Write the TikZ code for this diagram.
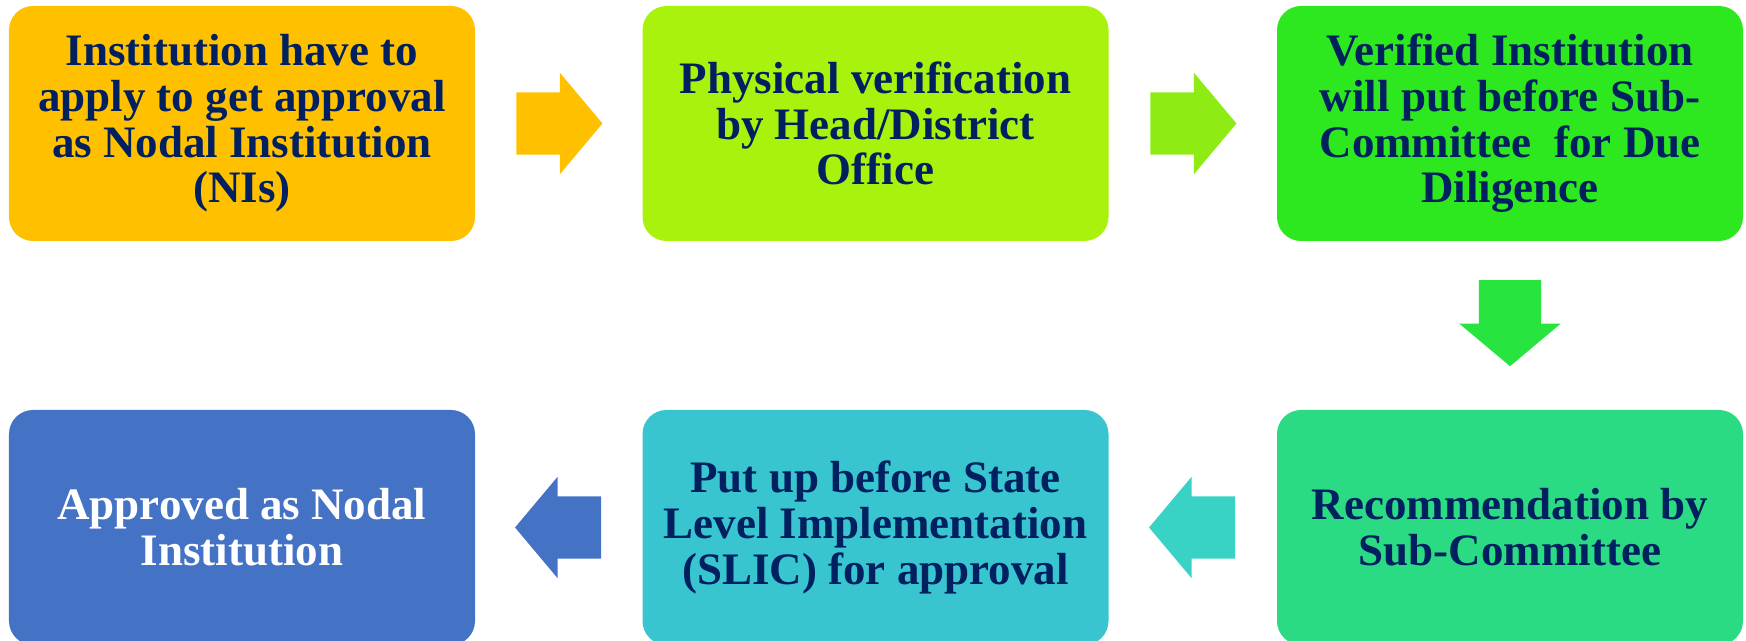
\documentclass[tikz,border=0pt]{standalone}
\usepackage{fontspec}
\setmainfont{Liberation Serif}
\usetikzlibrary{shapes.arrows,calc}

\definecolor{textnavy}{HTML}{002060}
\definecolor{boxamber}{HTML}{FFC000}
\definecolor{boxlime}{HTML}{A8F20E}
\definecolor{arrowlime}{HTML}{8EEC14}
\definecolor{boxgreen}{HTML}{2EE81F}
\definecolor{arrowgreen}{HTML}{28E43F}
\definecolor{boxmint}{HTML}{2BDB84}
\definecolor{arrowteal}{HTML}{38D3C4}
\definecolor{boxcyan}{HTML}{38C5CF}
\definecolor{boxblue}{HTML}{4472C4}

\tikzset{
  stepbox/.style={rounded corners=0.24cm, minimum width=4.66cm, minimum height=2.35cm,
    align=center, text=textnavy, inner sep=0pt,
    font=\fontsize{12.8}{13}\selectfont\bfseries},
  flowarrow/.style={single arrow, draw=none, inner xsep=0pt, inner ysep=0.305cm,
    minimum height=0.86cm, anchor=tail,
    single arrow head extend=0.195cm, single arrow tip angle=100}
}

\begin{document}
\begin{tikzpicture}
\useasboundingbox (0,0) rectangle (17.46,6.41);

% Drawing boxes of the upper row
\node [stepbox, fill=boxamber] (apply) at (2.42,5.175)
  {Institution have to\\apply to get approval\\as Nodal Institution\\(NIs)};
\node [stepbox, fill=boxlime] (verify) at (8.755,5.175)
  {Physical verification\\by Head/District\\Office};
\node [stepbox, fill=boxgreen] (subcom) at (15.10,5.175)
  {Verified Institution\\will put before Sub-\\Committee\ \ for Due\\Diligence};

% Drawing boxes of the lower row
\node [stepbox, fill=boxmint] (recommend) at (15.10,1.135)
  {Recommendation by\\Sub-Committee};
\node [stepbox, fill=boxcyan] (slic) at (8.755,1.135)
  {Put up before State\\Level Implementation\\(SLIC) for approval};
\node [stepbox, text=white, fill=boxblue] (approved) at (2.42,1.135)
  {Approved as Nodal\\Institution};

% Drawing arrows between boxes (placed by their tails)
\node [flowarrow, fill=boxamber] (arrA) at ($(apply.east)!0.5!(verify.west)+(-0.43,0)$) {};
\node [flowarrow, fill=arrowlime] (arrB) at ($(verify.east)!0.5!(subcom.west)+(-0.43,0)$) {};
\node [flowarrow, fill=arrowgreen, rotate=-90] (arrC) at ($(subcom.south)!0.5!(recommend.north)+(0,0.46)$) {};
\node [flowarrow, fill=arrowteal, rotate=180] (arrD) at ($(recommend.west)!0.5!(slic.east)+(0.43,0)$) {};
\node [flowarrow, fill=boxblue, rotate=180] (arrE) at ($(slic.west)!0.5!(approved.east)+(0.43,0)$) {};
\end{tikzpicture}
\end{document}
